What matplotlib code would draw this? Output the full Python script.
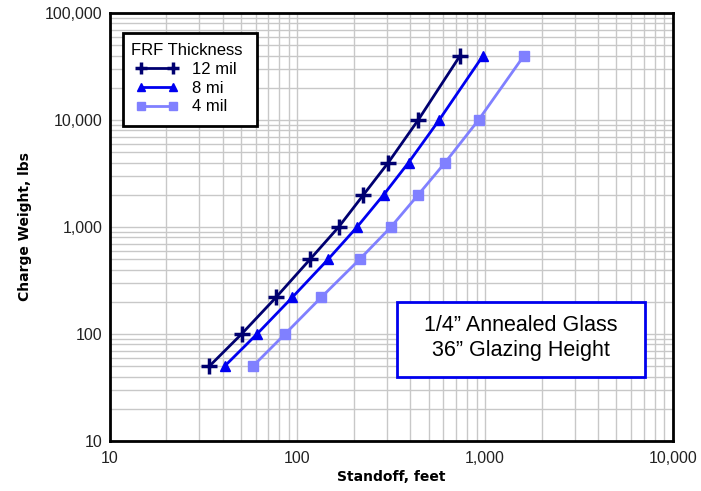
import matplotlib
matplotlib.use("Agg")
import matplotlib.pyplot as plt
from matplotlib.ticker import FixedLocator, LogLocator, NullFormatter
from matplotlib.legend_handler import HandlerLine2D
from matplotlib.patches import Rectangle

charge_lbs = [50, 100, 220, 500, 1000, 2000, 4000, 10000, 40000]
standoff_12mil = [34, 50.5, 77, 117, 166, 225, 305, 440, 736]
standoff_8mil = [41, 61, 94, 146, 208, 288, 391, 569, 975]
standoff_4mil = [58, 86, 134, 215, 315, 440, 612, 922, 1610]
series_labels = ["12 mil", "8 mi", "4 mil"]
xticks = [10, 100, 1000, 10000]
xtick_labels = ["10", "100", "1,000", "10,000"]
yticks = [10, 100, 1000, 10000, 100000]
ytick_labels = ["10", "100", "1,000", "10,000", "100,000"]

W, H = 701, 491
L, R, T, B = 109.5, 673, 13, 441
fig = plt.figure(figsize=(W/100, H/100), dpi=100)
ax = fig.add_axes([L/W, 1-B/H, (R-L)/W, (B-T)/H])
ax.set_xscale("log")
ax.set_yscale("log")
ax.set_xlim(10, 10000)
ax.set_ylim(10, 100000)

def ax_x(px):
    return (px - L) / (R - L)

def ax_y(py):
    return 1 - (py - T) / (B - T)

l1, = ax.plot(standoff_12mil, charge_lbs, color="#000070", lw=2, marker="+",
              ms=11, mew=2.5, label=series_labels[0], zorder=5)
l2, = ax.plot(standoff_8mil, charge_lbs, color="#0000f0", lw=2, marker="^",
              ms=7, mew=1, label=series_labels[1], zorder=5)
l3, = ax.plot(standoff_4mil, charge_lbs, color="#8080ff", lw=2, marker="s",
              ms=6.5, mew=1, label=series_labels[2], zorder=5)

ax.xaxis.set_major_locator(FixedLocator(xticks))
ax.yaxis.set_major_locator(FixedLocator(yticks))
ax.set_xticklabels(xtick_labels, family="Liberation Sans", fontsize=11.5, color="#222222")
ax.set_yticklabels(ytick_labels, family="Liberation Sans", fontsize=11.5, color="#222222")
ax.xaxis.set_minor_locator(LogLocator(base=10, subs=range(2, 10), numticks=20))
ax.yaxis.set_minor_locator(LogLocator(base=10, subs=range(2, 10), numticks=20))
ax.xaxis.set_minor_formatter(NullFormatter())
ax.yaxis.set_minor_formatter(NullFormatter())
ax.tick_params(which="both", length=0)
ax.tick_params(axis="x", pad=7)
ax.tick_params(axis="y", pad=5)
ax.grid(True, which="both", color="#c8c8c8", lw=1)
ax.set_axisbelow(True)
for s in ax.spines.values():
    s.set_linewidth(2)
    s.set_color("black")

ax.set_xlabel("Standoff, feet", fontsize=10, fontweight="bold", family="DejaVu Sans", labelpad=3)
ax.set_ylabel("Charge Weight, lbs", fontsize=10, fontweight="bold", family="DejaVu Sans", labelpad=9)

# legend frame drawn as a rectangle
ax.add_patch(Rectangle((ax_x(123), ax_y(126)), ax_x(257) - ax_x(123), ax_y(33) - ax_y(126),
                       transform=ax.transAxes, fc="white", ec="black", lw=2, zorder=6))
leg = ax.legend(loc="upper left", bbox_to_anchor=(ax_x(123), ax_y(35)),
                title="FRF Thickness", numpoints=2, frameon=False,
                prop={"family": "Liberation Sans", "size": 12},
                title_fontproperties={"family": "Liberation Sans", "size": 12},
                handlelength=3.1, handletextpad=0.55, borderpad=0.5, labelspacing=0.22,
                borderaxespad=0,
                handler_map={l1: HandlerLine2D(marker_pad=0.6),
                             l2: HandlerLine2D(marker_pad=0.6),
                             l3: HandlerLine2D(marker_pad=0.6)})
leg.set_zorder(7)
leg._legend_box.align = "left"
for h in leg.legend_handles:
    h.set_markersize(h.get_markersize() * 0.85)

ax.add_patch(Rectangle((ax_x(397), ax_y(377)), ax_x(645) - ax_x(397), ax_y(302) - ax_y(377),
                       transform=ax.transAxes, fc="white", ec="#0000ee", lw=2, zorder=5.5))
ax.text(ax_x((397 + 645) / 2), ax_y(338),
        "1/4\u201d Annealed Glass\n36\u201d Glazing Height",
        transform=ax.transAxes, ha="center", va="center", fontsize=15.5,
        family="Liberation Sans", linespacing=1.2, zorder=6)

fig.savefig("out.png", dpi=100)
